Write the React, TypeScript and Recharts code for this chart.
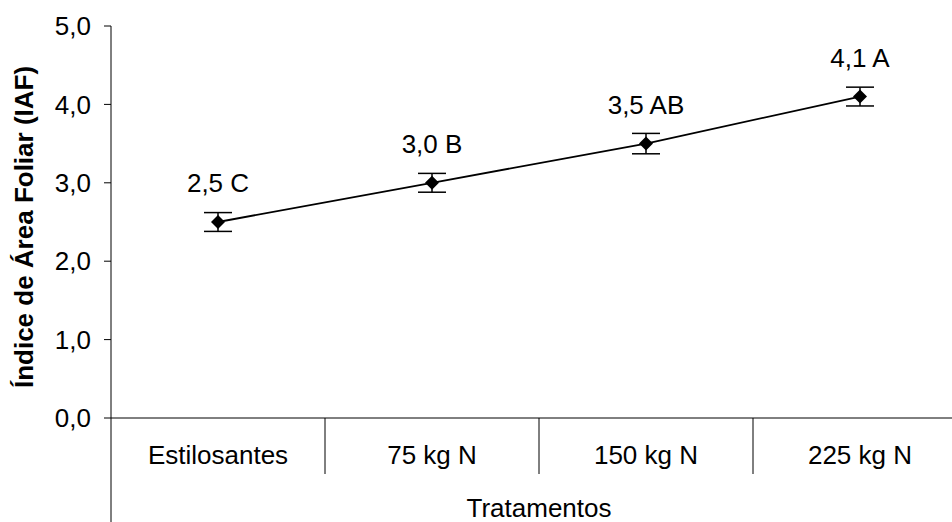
import {
  LineChart,
  Line,
  XAxis,
  YAxis,
  ErrorBar,
  LabelList,
  Label,
} from "recharts";

const tratamentos = ["Estilosantes", "75 kg N", "150 kg N", "225 kg N"];
const iaf = [2.5, 3.0, 3.5, 4.1];
const erro = [0.12, 0.12, 0.13, 0.12];
const letras = ["C", "B", "AB", "A"];
const yTicks = [0, 1, 2, 3, 4, 5];

const data = tratamentos.map((t, i) => ({
  name: t,
  iaf: iaf[i],
  err: erro[i],
  label: `${iaf[i].toFixed(1).replace(".", ",")} ${letras[i]}`,
}));

const font = "'Liberation Sans', Arial, sans-serif";
const fmt = (v: number) => v.toFixed(1).replace(".", ",");

function Diamond(props: any) {
  const { cx, cy } = props;
  if (cx == null || cy == null) return null;
  const r = 7;
  return (
    <polygon
      points={`${cx},${cy - r} ${cx + r},${cy} ${cx},${cy + r} ${cx - r},${cy}`}
      fill="#000"
    />
  );
}

function CatTick(props: any) {
  const { x, y, payload, index } = props;
  const half = payload?.offset ?? 107;
  return (
    <g>
      {index === 0 && (
        <line x1={x - half} y1={y} x2={x - half} y2={y + 104} stroke="#000" strokeWidth={1} />
      )}
      <line x1={x + half} y1={y} x2={x + half} y2={y + 56} stroke="#000" strokeWidth={1} />
      <text
        x={x}
        y={y + 46}
        textAnchor="middle"
        fontFamily={font}
        fontSize={26}
        fill="#000"
      >
        {payload.value}
      </text>
    </g>
  );
}

function PointLabel(props: any) {
  const { x, y, value } = props;
  return (
    <text
      x={x}
      y={y - 30}
      textAnchor="middle"
      fontFamily={font}
      fontSize={26}
      fill="#000"
    >
      {value}
    </text>
  );
}

function XTitle(props: any) {
  const vb = props.viewBox || {};
  return (
    <text
      x={vb.x + vb.width / 2}
      y={517}
      textAnchor="middle"
      fontFamily={font}
      fontSize={26}
      fill="#000"
    >
      Tratamentos
    </text>
  );
}

function YTitle() {
  return (
    <text
      x={0}
      y={0}
      transform="translate(33, 227) rotate(-90)"
      textAnchor="middle"
      fontFamily={font}
      fontSize={26}
      fontWeight="bold"
      fill="#000"
    >
      Índice de Área Foliar (IAF)
    </text>
  );
}

export default function App() {
  return (
    <div
      style={{
        position: "absolute",
        left: 0,
        top: 0,
        width: 952,
        height: 522,
        overflow: "hidden",
        background: "#fff",
      }}
    >
      <LineChart
        width={980}
        height={522}
        data={data}
        margin={{ top: 26, right: 13, left: 0, bottom: 0 }}
      >
        <XAxis
          dataKey="name"
          scale="band"
          height={104}
          tickLine={false}
          tickSize={0}
          tickMargin={0}
          axisLine={{ stroke: "#000", strokeWidth: 1 }}
          tick={<CatTick />}
          interval={0}
        >
          <Label content={<XTitle />} />
        </XAxis>
        <YAxis
          width={111}
          domain={[0, 5]}
          ticks={yTicks}
          tickFormatter={fmt}
          tickSize={7}
          tickMargin={13}
          axisLine={{ stroke: "#000", strokeWidth: 1 }}
          tickLine={{ stroke: "#000", strokeWidth: 1 }}
          tick={{ fontFamily: font, fontSize: 26, fill: "#000" }}
        >
          <Label content={<YTitle />} />
        </YAxis>
        <Line
          dataKey="iaf"
          stroke="#000"
          strokeWidth={1.8}
          dot={<Diamond />}
          activeDot={false}
          isAnimationActive={false}
        >
          <ErrorBar dataKey="err" width={14} stroke="#000" strokeWidth={1.5} />
          <LabelList dataKey="label" content={<PointLabel />} />
        </Line>
      </LineChart>
    </div>
  );
}
